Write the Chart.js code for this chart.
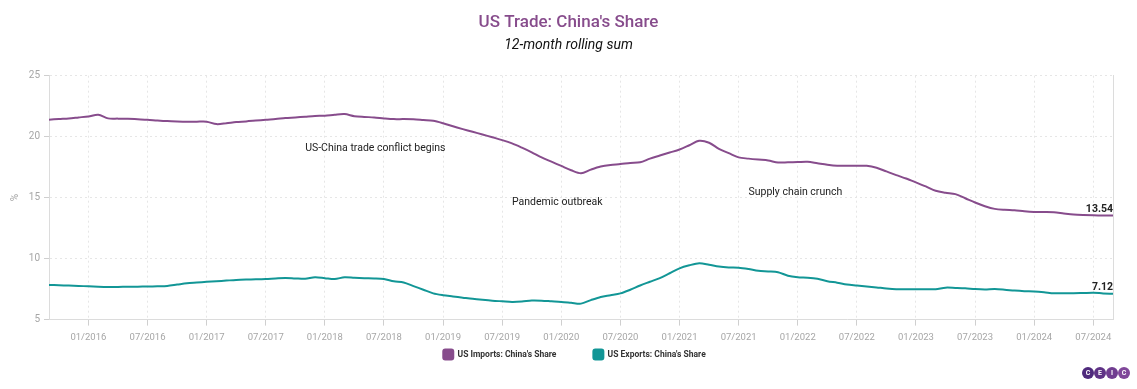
<!DOCTYPE html>
<html>
<head>
<meta charset="utf-8">
<script src="https://cdn.jsdelivr.net/npm/chart.js@4"></script>
<style>
  html, body { margin: 0; padding: 0; background: #fff; }
  #wrap { position: relative; width: 1137px; height: 389px; }
  #logo { position: absolute; left: 1082px; top: 367px; display: flex; gap: 0px; }
  #logo span {
    width: 12px; height: 12px; border-radius: 50%;
    background: #6a3a8c; color: #fff; font: bold 7px Roboto, sans-serif;
    display: flex; align-items: center; justify-content: center;
  }
  #logo span:nth-child(1) { background: #4f2a7c; }
  #logo span:nth-child(2) { background: #5f3386; }
  #logo span:nth-child(3) { background: #703d90; }
  #logo span:nth-child(4) { background: #80479a; }
</style>
</head>
<body>
<div id="wrap">
  <canvas id="chart" width="1137" height="389"></canvas>
  <div id="logo"><span>C</span><span>E</span><span>I</span><span>C</span></div>
</div>
<script>
// months 09/2015 .. 09/2024
const months = [];
for (let y = 2015, m = 9; !(y === 2024 && m > 9); m++) {
    if (m > 12) { m = 1; y++; }
    months.push(String(m).padStart(2, '0') + '/' + y);
}

const importsShare = [
    21.39, 21.45, 21.5, 21.58, 21.66, 21.8, 21.5, 21.48, 21.47, 21.43,
    21.39, 21.33, 21.28, 21.25, 21.23, 21.23, 21.23, 21.03, 21.1, 21.2,
    21.25, 21.32, 21.39, 21.45, 21.53, 21.58, 21.64, 21.7, 21.72, 21.8,
    21.85, 21.68, 21.62, 21.58, 21.5, 21.44, 21.44, 21.42, 21.36, 21.3,
    21.1, 20.85, 20.62, 20.4, 20.18, 19.95, 19.72, 19.45, 19.1, 18.72,
    18.3, 17.95, 17.6, 17.25, 17.0, 17.3, 17.55, 17.68, 17.75, 17.85,
    17.9, 18.2, 18.45, 18.7, 18.95, 19.3, 19.66, 19.5, 19.0, 18.65,
    18.3, 18.2, 18.12, 18.05, 17.88, 17.9, 17.92, 17.94, 17.82, 17.7,
    17.62, 17.62, 17.62, 17.61, 17.45, 17.15, 16.85, 16.57, 16.25, 15.92,
    15.56, 15.4, 15.29, 14.95, 14.6, 14.3, 14.08, 14.0, 13.96, 13.88,
    13.83, 13.82, 13.8, 13.7, 13.61, 13.57, 13.55, 13.54, 13.54
];

const exportsShare = [
    7.84, 7.82, 7.79, 7.76, 7.73, 7.7, 7.68, 7.68, 7.69, 7.7,
    7.71, 7.73, 7.76, 7.87, 7.98, 8.04, 8.1, 8.15, 8.2, 8.25,
    8.28, 8.3, 8.33, 8.38, 8.42, 8.38, 8.35, 8.47, 8.4, 8.33,
    8.47, 8.43, 8.4, 8.38, 8.33, 8.15, 8.05, 7.75, 7.45, 7.15,
    7.0, 6.9, 6.8, 6.7, 6.62, 6.55, 6.5, 6.45, 6.48, 6.56,
    6.55, 6.5, 6.45, 6.38, 6.31, 6.6, 6.86, 7.0, 7.15, 7.45,
    7.8, 8.1, 8.4, 8.8, 9.2, 9.45, 9.62, 9.5, 9.35, 9.28,
    9.26, 9.15, 9.0, 8.95, 8.88, 8.6, 8.48, 8.44, 8.35, 8.15,
    8.03, 7.88, 7.8, 7.72, 7.64, 7.55, 7.49, 7.49, 7.49, 7.49,
    7.49, 7.62, 7.6, 7.57, 7.5, 7.47, 7.5, 7.45, 7.38, 7.33,
    7.3, 7.24, 7.16, 7.16, 7.16, 7.18, 7.2, 7.15, 7.12
];

// annotation text, anchored at [month, value]
const notes = [
    { text: 'US-China trade conflict begins', month: '11/2017', value: 19.0 },
    { text: 'Pandemic outbreak', month: '08/2019', value: 14.6 },
    { text: 'Supply chain crunch', month: '08/2021', value: 15.4 },
];

const purple = 'rgb(135, 76, 140)';
const teal = 'rgb(18, 150, 150)';
const gridGrey = '#e6e6e6';
const tickGrey = '#a6a6a6';

const extras = {
    id: 'extras',
    afterDatasetsDraw(chart) {
        const ctx = chart.ctx;
        const x = chart.scales.x, y = chart.scales.y;
        ctx.save();
        ctx.fillStyle = '#222';
        ctx.font = '10.5px Roboto';
        ctx.textAlign = 'left';
        ctx.textBaseline = 'middle';
        notes.forEach(n => {
            ctx.fillText(n.text, x.getPixelForValue(months.indexOf(n.month)), y.getPixelForValue(n.value));
        });
        // last values
        ctx.font = 'bold 10.5px Roboto';
        ctx.textAlign = 'right';
        ctx.textBaseline = 'bottom';
        chart.data.datasets.forEach((ds, i) => {
            const pts = chart.getDatasetMeta(i).data;
            const p = pts[pts.length - 1];
            ctx.fillText(ds.data[ds.data.length - 1].toFixed(2), p.x, p.y - 1);
        });
        ctx.restore();
    }
};

// wide gaps between legend items without a tall legend box
const legendSpacing = {
    id: 'legendSpacing',
    afterInit(chart) {
        const legend = chart.legend;
        const fit = legend.fit;
        legend.fit = function () { fit.call(this); this.height = 26; };
    },
    afterLayout(chart) {
        const legend = chart.legend;
        legend.top -= 36.5;
        legend.bottom = legend.top + 60;
        legend.left += 6; legend.right += 6;
    }
};

new Chart(document.getElementById('chart'), {
    type: 'line',
    data: {
        labels: months,
        datasets: [{
            label: 'US Imports: China\'s Share',
            data: importsShare,
            borderColor: purple,
            backgroundColor: purple,
            borderWidth: 2,
            pointRadius: 0,
            tension: 0.3,
        }, {
            label: 'US Exports: China\'s Share',
            data: exportsShare,
            borderColor: teal,
            backgroundColor: teal,
            borderWidth: 2,
            pointRadius: 0,
            tension: 0.3,
        }]
    },
    options: {
        responsive: false,
        animation: false,
        layout: { padding: { left: 0, right: 0, top: 0, bottom: 14 } },
        plugins: {
            title: {
                display: true,
                text: 'US Trade: China\'s Share',
                color: purple,
                font: { family: 'Roboto', size: 17, weight: '500' },
                padding: { top: 12.5, bottom: 4 }
            },
            subtitle: {
                display: true,
                text: '12-month rolling sum',
                color: '#111',
                font: { family: 'Roboto', size: 14, style: 'italic' },
                padding: { top: 0, bottom: 22 }
            },
            legend: {
                position: 'bottom',
                labels: {
                    boxWidth: 10,
                    boxHeight: 10,
                    useBorderRadius: true,
                    borderRadius: 2,
                    padding: 37,
                    color: '#333',
                    font: { family: 'Roboto', size: 8.5, weight: 'bold' }
                }
            },
            tooltip: { enabled: false }
        },
        scales: {
            x: {
                ticks: {
                    autoSkip: false,
                    maxRotation: 0,
                    color: tickGrey,
                    font: { family: 'Roboto', size: 9.5 },
                    padding: 6,
                    callback: function (v) {
                        const l = months[v];
                        return (l.startsWith('01/') || l.startsWith('07/')) ? l : null;
                    }
                },
                grid: { color: gridGrey, tickColor: '#cfcfcf', tickLength: 6 },
                border: { color: '#dcdcdc', dash: [2, 3] }
            },
            y: {
                min: 5,
                max: 25,
                ticks: { stepSize: 5, color: tickGrey, font: { family: 'Roboto', size: 10 }, padding: 4 },
                grid: { color: gridGrey, tickColor: '#cfcfcf', tickLength: 5 },
                border: { color: '#dcdcdc', dash: [2, 3] },
                title: { display: true, text: '%', color: tickGrey, font: { family: 'Roboto', size: 10 }, padding: { top: 9, bottom: 0 } },
                afterFit(s) { s.width = 49; }
            },
            y2: {
                position: 'right',
                min: 5,
                max: 25,
                ticks: { display: false },
                grid: { drawOnChartArea: false, drawTicks: false },
                border: { color: '#dcdcdc' },
                afterFit(s) { s.width = 24; }
            }
        }
    },
    plugins: [extras, legendSpacing]
});
</script>
</body>
</html>
